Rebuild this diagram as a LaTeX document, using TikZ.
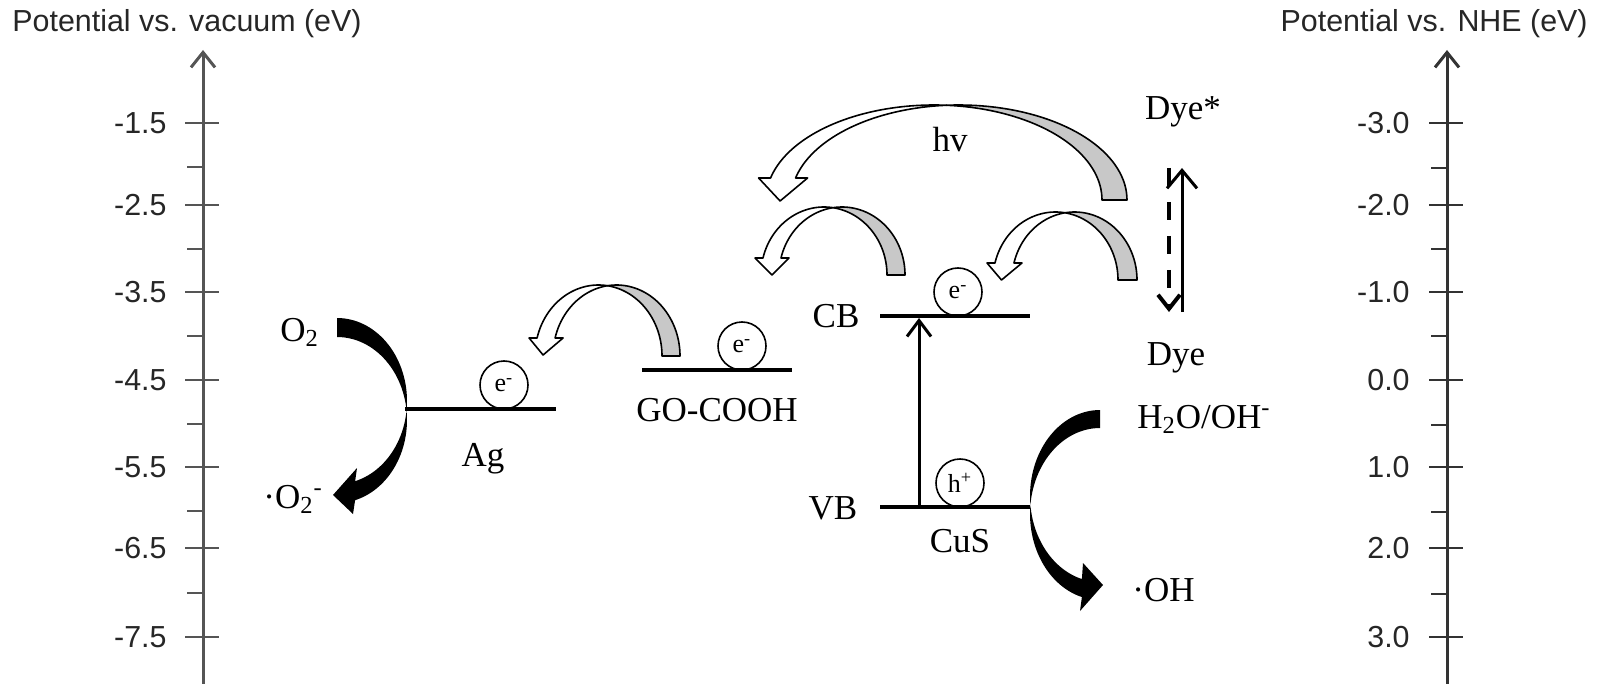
\documentclass[tikz,border=0pt]{standalone}
\usepackage{fontspec}
\setmainfont{Liberation Serif}
\newfontfamily\sansf{Liberation Sans}
\usetikzlibrary{arrows.meta}
\definecolor{axgray}{HTML}{555555}
\definecolor{bandgray}{HTML}{C8C8C8}
% #1 c1, #2 shift, #3 cy, #4 rx, #5 ry, #6 delta, #7 wing, #8 tip dx, #9 tip dy
\newcommand{\hollowarrow}[9]{%
  \pgfmathsetmacro\ha{acos(#2/(2*#4))}%
  \pgfmathsetmacro\htA{360-\ha}%
  \pgfmathsetmacro\htB{180+\ha}%
  \pgfmathsetmacro\htE{180+#6}%
  \pgfmathsetmacro\hPx{#1+#4*cos(\htE)}%
  \pgfmathsetmacro\hPy{#3+#5*sin(\htE)}%
  \pgfmathsetmacro\hQx{#1+#2+#4*cos(\htE)}%
  \pgfmathsetmacro\hTx{(\hPx+\hQx)/2+#8}%
  \pgfmathsetmacro\hTy{#3+#9}%
  \filldraw[hollowgray] plot[domain=\htA:360,samples=40] ({#1+#4*cos(\x)},{#3+#5*sin(\x)})
     -- plot[domain=360:\htB,samples=40] ({#1+#2+#4*cos(\x)},{#3+#5*sin(\x)}) -- cycle;
  \filldraw[hollowwhite] plot[domain=\htA:\htE,samples=60] ({#1+#4*cos(\x)},{#3+#5*sin(\x)})
     -- ({\hPx-#7},{\hPy}) -- ({\hTx},{\hTy}) -- ({\hQx+#7},{\hPy})
     -- plot[domain=\htE:\htB,samples=60] ({#1+#2+#4*cos(\x)},{#3+#5*sin(\x)}) -- cycle;
}
\begin{document}
\begin{tikzpicture}[x=0.5pt,y=-0.5pt,
  axisline/.style={line width=1.5pt, draw=axgray},
  tickline/.style={line width=1.4pt, draw=axgray},
  ticklab/.style={font=\sansf\fontsize{15.2}{18}\selectfont, text=black!85, inner sep=0pt, anchor=east},
  axtitle/.style={font=\sansf\fontsize{15.2}{18}\selectfont, text=black!85, inner sep=0pt},
  lab/.style={font=\fontsize{17.5}{21}\selectfont, inner sep=0pt},
  carrier/.style={circle, draw, line width=0.8pt, minimum size=24pt, inner sep=0pt, font=\fontsize{13}{15}\selectfont},
  hollowgray/.style={fill=bandgray, draw=black, line width=0.8pt, line join=round},
  hollowwhite/.style={fill=white, draw=black, line width=0.8pt, line join=round},
  crescent/.style={fill=black},
]
\useasboundingbox (0,0) rectangle (1600,684);

% axis titles
\node[axtitle, anchor=base west] (tL) at (12,32) {Potential vs. vacuum (eV)};
\node[axtitle, anchor=base east] (tR) at (1588,32) {Potential vs. NHE (eV)};

% left axis
\coordinate (LB) at (203,684); \coordinate (LT) at (203,50);
\draw[axisline, -{Straight Barb[length=7.5pt,width=12pt]}] (LB) -- (LT);
\foreach \y/\l [count=\i] in {123/-1.5,205/-2.5,292/-3.5,380/-4.5,467/-5.5,548/-6.5,637/-7.5}{
  \draw[tickline] (185,\y) -- (219,\y);
  \node[ticklab] (lt\i) at (167,\y) {\l};
}
\foreach \y in {167,249,336,424,511,593}{ \draw[tickline] (187,\y) -- (203,\y); }

% right axis
\coordinate (RB) at (1447,684); \coordinate (RT) at (1447,50);
\draw[axisline, draw=black!80, -{Straight Barb[length=7.5pt,width=12pt]}] (RB) -- (RT);
\foreach \y/\l [count=\i] in {123/-3.0,205/-2.0,292/-1.0,380/0.0,467/1.0,548/2.0,637/3.0}{
  \draw[tickline, draw=black!80] (1429,\y) -- (1463,\y);
  \node[ticklab] (rt\i) at (1410,\y) {\l};
}
\foreach \y in {168,249,336,425,512,594}{ \draw[tickline, draw=black!80] (1431,\y) -- (1447,\y); }

% hollow curved arrows
\hollowarrow{934}{25}{200}{168}{95}{13.4}{12}{-3}{1}
\hollowarrow{824}{18}{275}{63}{68}{14.5}{8}{0}{0}
\hollowarrow{1055.5}{19}{280}{62.5}{68}{14.5}{8}{-3}{0}
\hollowarrow{598.5}{18}{356}{63.5}{71}{14.7}{8}{-3}{-1}

% black curved arrows
\fill[crescent] plot[domain=-90:75,samples=60] ({337+70*cos(\x)},{401+83*sin(\x)})
  -- (357,468) -- (333,495) -- (353,514)
  -- plot[domain=75:-90,samples=60] ({337+70*cos(\x)},{420+83*sin(\x)}) -- cycle;
\fill[crescent] plot[domain=270:105,samples=60] ({1100+70*cos(\x)},{496+86*sin(\x)})
  -- (1083,563) -- (1103,585) -- (1080,611)
  -- plot[domain=105:270,samples=60] ({1100+70*cos(\x)},{514+86*sin(\x)}) -- cycle;

% energy levels
\coordinate (AgL) at (405,409); \coordinate (AgR) at (556,409);
\draw[line width=1.6pt] (AgL) -- (AgR);
\coordinate (GOL) at (642,370); \coordinate (GOR) at (792,370);
\draw[line width=2pt] (GOL) -- (GOR);
\coordinate (CBL) at (880,316); \coordinate (CBR) at (1030,316);
\draw[line width=2pt] (CBL) -- (CBR);
\coordinate (VBL) at (880,507); \coordinate (VBR) at (1030,507);
\draw[line width=2pt] (VBL) -- (VBR);

% carriers
\node[carrier] (eAg) at (504,385) {e\textsuperscript{-}};
\node[carrier] (eGO) at (742,346) {e\textsuperscript{-}};
\node[carrier] (eCB) at (958,292) {e\textsuperscript{-}};
\node[carrier] (hVB) at (960,483) {h\textsuperscript{+}};

% excitation arrow
\coordinate (VBa) at (919,507); \coordinate (CBa) at (919,318);
\draw[line width=1.5pt, -{Straight Barb[length=8pt,width=12pt]}] (VBa) -- (CBa);

% dye arrows
\coordinate (s1) at (1182,312); \coordinate (s2) at (1182,168);
\draw[line width=1.5pt, -{Straight Barb[length=9pt,width=15pt]}] (s1) -- (s2);
\coordinate (d1) at (1169,168); \coordinate (d2) at (1169,312);
\draw[line width=2pt, dash pattern=on 9pt off 8pt, -{Straight Barb[length=7pt,width=11pt]}] (d1) -- (d2);

% labels
\node[lab, anchor=base west] (o2) at (280,341) {O\textsubscript{2}};
\node[lab, anchor=base west] (o2r) at (263,508) {·O\textsubscript{2}\textsuperscript{-}};
\node[lab, anchor=base] (ag) at (483,466) {Ag};
\node[lab, anchor=base] (go) at (717,421) {GO-COOH};
\node[lab, anchor=base] (cb) at (836,327) {CB};
\node[lab, anchor=base] (vb) at (833,519) {VB};
\node[lab, anchor=base] (cus) at (960,552) {CuS};
\node[lab, anchor=base] (hv) at (950,152) {hv};
\node[lab, anchor=base] (dyes) at (1183,120) {Dye*};
\node[lab, anchor=base] (dye) at (1176,365) {Dye};
\node[lab, anchor=base west] (h2o) at (1137,428) {H\textsubscript{2}O/OH\textsuperscript{-}};
\node[lab, anchor=base west] (oh) at (1132,601) {·OH};
\end{tikzpicture}
\end{document}
